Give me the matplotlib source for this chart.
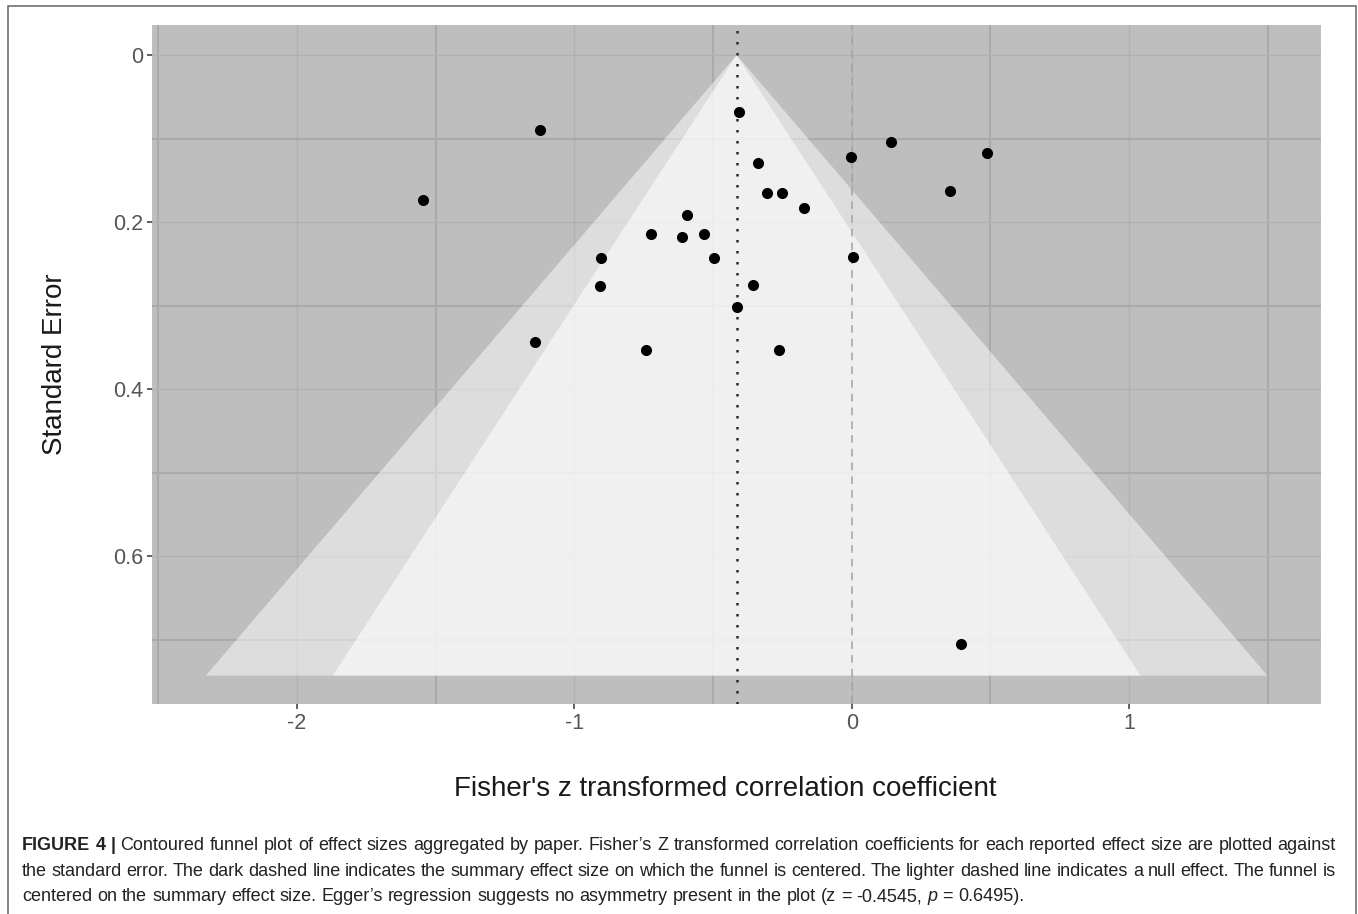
import numpy as np
import matplotlib
matplotlib.use('Agg')
import matplotlib.pyplot as plt
from matplotlib.patches import Polygon, Rectangle

# Fisher's z and standard error, one point per paper
fisher_z = [-1.545, -1.124, -0.407, -0.339, -0.306, -0.250, -0.173, -0.594,
            -0.723, -0.613, -0.534, -0.903, -0.498, -0.908, -0.357, -0.413,
            -1.142, -0.742, -0.262, -0.004, 0.142, 0.487, 0.356, 0.005, 0.395]
std_err = [0.174, 0.090, 0.068, 0.129, 0.165, 0.165, 0.183, 0.192,
           0.214, 0.218, 0.214, 0.243, 0.243, 0.277, 0.275, 0.302,
           0.343, 0.353, 0.353, 0.1225, 0.104, 0.117, 0.163, 0.242, 0.705]

summary_z = -0.415      # funnel centre
null_z = 0.0
se_max = 0.743
contour_z = [2.576, 1.960]        # 99% and 95% regions
contour_alpha = [0.48, 0.58]

xticks = [-2, -1, 0, 1]
xtick_labels = ['-2', '-1', '0', '1']
yticks = [0, 0.2, 0.4, 0.6]
ytick_labels = ['0', '0.2', '0.4', '0.6']

caption = [
    "FIGURE 4 | Contoured funnel plot of effect sizes aggregated by paper. Fisher\u2019s Z transformed correlation coefficients for each reported effect size are plotted against",
    "the standard error. The dark dashed line indicates the summary effect size on which the funnel is centered. The lighter dashed line indicates a null effect. The funnel is",
    "centered on the summary effect size. Egger\u2019s regression suggests no asymmetry present in the plot (z = -0.4545, p = 0.6495).",
]

W, H = 1358, 914
FONT = 'Liberation Sans'

fig = plt.figure(figsize=(W / 100, H / 100), dpi=100)
fig.patch.set_facecolor('white')
ax = fig.add_axes([152 / W, 1 - 704 / H, (1321 - 152) / W, (704 - 25) / H])
ax.set_facecolor('#bebebe')

# gridlines (minor look heavier in the original)
ax.set_xticks(xticks, xtick_labels)
ax.set_yticks(yticks, ytick_labels)
ax.set_xticks([-2.5, -1.5, -0.5, 0.5, 1.5], minor=True)
ax.set_yticks([0.1, 0.3, 0.5, 0.7], minor=True)
ax.set_axisbelow(True)
ax.grid(which='major', color='#b1b1b1', lw=1.0)
ax.grid(which='minor', color='#aaaaaa', lw=1.5)

# funnel contours
for zc, a in zip(contour_z, contour_alpha):
    tri = [(summary_z, 0), (summary_z - zc * se_max, se_max), (summary_z + zc * se_max, se_max)]
    ax.add_patch(Polygon(tri, closed=True, facecolor='white', alpha=a, lw=0, zorder=1))

ax.axvline(null_z, color='#a3a3a3', lw=1.1, ls=(0, (5, 4)), zorder=2)
ax.axvline(summary_z, color='#2a2a2a', lw=1.8, ls=(0, (1, 3.4)), zorder=2)
ax.scatter(fisher_z, std_err, s=64, c='black', linewidths=0, zorder=4)

ax.set_xlim(-2.523, 1.692)
ax.set_ylim(0.777, -0.036)
for s in ax.spines.values():
    s.set_visible(False)
ax.tick_params(which='major', length=3.5, width=1.1, color='#333333', pad=3,
               labelsize=15.5, labelcolor='#555555')
ax.tick_params(which='minor', length=0)
for lab in ax.get_xticklabels() + ax.get_yticklabels():
    lab.set_family(FONT)

ax.set_xlabel("Fisher's z transformed correlation coefficient", fontsize=20, family=FONT, color='#1a1a1a')
ax.set_ylabel('Standard Error', fontsize=20, family=FONT, color='#1a1a1a')
ax.xaxis.set_label_coords((725 - 152) / 1169, (704 - 776) / 679)
ax.yaxis.set_label_coords((68 - 152) / 1169, 0.5)

# outer frame
fig.add_artist(Rectangle((8 / W, -0.05), (1356 - 8) / W, 1 - 6 / H + 0.05, transform=fig.transFigure,
                         fill=False, edgecolor='#707070', lw=1.2))

# caption, first two lines justified
fig.canvas.draw()
renderer = fig.canvas.get_renderer()
cap_fs = 13.0
left, right = 22, 1336
baselines = [850, 875.5, 901]


def word_props(w, line_no, idx):
    if line_no == 0 and idx < 3:
        return dict(weight='bold')
    if line_no == 2 and w == 'p':
        return dict(style='italic')
    return {}


probe1 = fig.text(0, 0, 'x x', fontsize=cap_fs, family=FONT)
probe2 = fig.text(0, 0, 'xx', fontsize=cap_fs, family=FONT)
space_px = probe1.get_window_extent(renderer).width - probe2.get_window_extent(renderer).width
probe1.remove()
probe2.remove()

for i, line in enumerate(caption):
    words = line.split(' ')
    texts = [fig.text(0, 1 - baselines[i] / H, w, fontsize=cap_fs, family=FONT, color='#222222',
                      va='baseline', ha='left', **word_props(w, i, k)) for k, w in enumerate(words)]
    widths = [t.get_window_extent(renderer).width for t in texts]
    if i < 2:
        gap = (right - left - sum(widths)) / (len(words) - 1)
    else:
        gap = space_px
    x = left
    for t, wd in zip(texts, widths):
        t.set_x(x / W)
        x += wd + gap

fig.savefig('out.png', dpi=100)
